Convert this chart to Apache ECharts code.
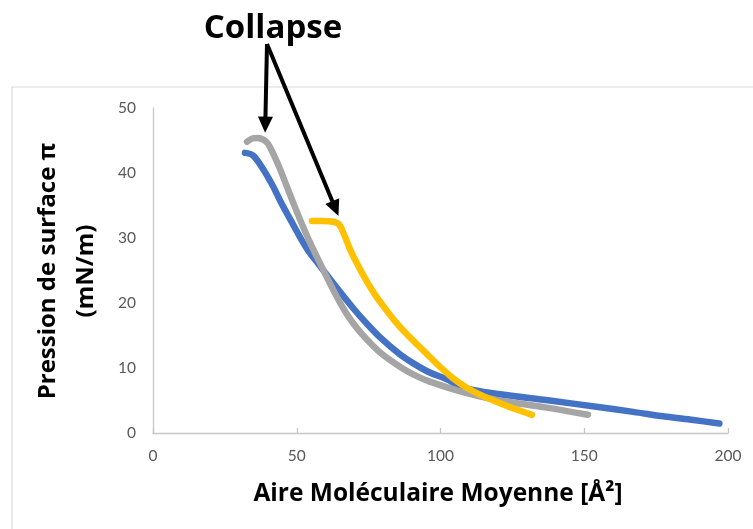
<!DOCTYPE html>
<html>
<head>
<meta charset="utf-8">
<script src="https://cdn.jsdelivr.net/npm/echarts@6/dist/echarts.min.js"></script>
<style>
  html, body { margin: 0; padding: 0; background: #ffffff; }
  #chart { width: 753px; height: 529px; }
</style>
</head>
<body>
<div id="chart"></div>
<script>
// Surface pressure isotherms: [area per molecule (Å²), surface pressure (mN/m)]
const isothermBlue = [
  [32.0, 43.1], [34.8, 42.7], [38.0, 40.8], [41.7, 38.0], [44.5, 35.5],
  [47.7, 32.9], [53.6, 28.3], [58.1, 25.7], [64.0, 22.3], [70.0, 19.0],
  [74.0, 17.0], [79.0, 14.7], [85.9, 12.1], [91.0, 10.6], [96.3, 9.3],
  [102.0, 8.3], [108.0, 7.0], [120.0, 6.0], [138.0, 5.0], [155.5, 3.95],
  [167.0, 3.25], [178.7, 2.5], [188.0, 2.0], [197.0, 1.45]
];
const isothermGray = [
  [32.7, 44.8], [34.5, 45.3], [36.5, 45.4], [38.5, 45.1], [40.0, 44.5],
  [42.0, 42.8], [44.2, 40.6], [48.7, 35.5], [53.6, 30.3], [59.1, 25.2],
  [62.0, 22.6], [65.0, 20.1], [68.0, 17.9], [71.0, 16.1], [74.4, 14.4],
  [79.0, 12.4], [85.9, 10.2], [91.0, 8.9], [96.3, 7.9], [107.8, 6.3],
  [119.5, 5.1], [137.0, 3.9], [151.3, 2.8]
];
const isothermYellow = [
  [55.3, 32.6], [59.0, 32.6], [62.6, 32.5], [64.7, 32.1], [66.5, 30.5],
  [68.5, 28.3], [71.5, 25.6], [74.4, 23.3], [77.5, 21.1], [80.0, 19.6],
  [84.0, 17.3], [88.3, 15.2], [96.3, 11.7], [100.0, 10.1], [104.4, 8.4],
  [109.0, 7.0], [113.7, 5.9], [119.0, 4.9], [125.2, 3.8], [131.8, 2.8]
];

// Axis ticks
const xTicks = { min: 0, max: 200, step: 50 };
const yTicks = { min: 0, max: 50, step: 10 };

// Texts
const xTitle = 'Aire Moléculaire Moyenne [Å²]';
const yTitle = ['Pression de surface π', '(mN/m)'];
const noteText = 'Collapse';
// Collapse points the arrows point at (area, pressure)
const collapsePoints = [[39.0, 46.2], [64.5, 33.4]];

const chart = echarts.init(document.getElementById('chart'), null, { renderer: 'canvas' });

const labelFont = 'Lato, "Open Sans", sans-serif';
const titleFont = '"Open Sans", Lato, sans-serif';

function lineSeries(data, color) {
  return {
    type: 'line',
    data: data,
    showSymbol: false,
    smooth: 0.35,
    silent: true,
    animation: false,
    lineStyle: { color: color, width: 6.5, cap: 'round', join: 'round' }
  };
}

chart.setOption({
  animation: false,
  backgroundColor: '#ffffff',
  grid: { left: 153, right: 25, top: 108, bottom: 96, containLabel: false },
  xAxis: {
    type: 'value',
    min: xTicks.min, max: xTicks.max, interval: xTicks.step,
    axisLine: { show: true, lineStyle: { color: '#c6c6c6', width: 1.3 } },
    axisTick: { show: true, inside: true, length: 5, lineStyle: { color: '#c6c6c6', width: 1.3 } },
    splitLine: { show: false },
    axisLabel: { color: '#595959', fontSize: 15.5, fontFamily: labelFont, margin: 15 }
  },
  yAxis: {
    type: 'value',
    min: yTicks.min, max: yTicks.max, interval: yTicks.step,
    axisLine: { show: true, lineStyle: { color: '#c6c6c6', width: 1.3 } },
    axisTick: { show: false },
    splitLine: { show: false },
    axisLabel: { color: '#595959', fontSize: 15.5, fontFamily: labelFont, margin: 17 }
  },
  series: [
    lineSeries(isothermBlue, '#4472C4'),
    lineSeries(isothermGray, '#A5A5A5'),
    lineSeries(isothermYellow, '#FFC000')
  ]
});

// Annotation layer: frame, axis titles and the "Collapse" arrows
function arrow(from, tip) {
  const dx = tip[0] - from[0], dy = tip[1] - from[1];
  const len = Math.sqrt(dx * dx + dy * dy);
  const ux = dx / len, uy = dy / len;
  const headLen = 16, headHalf = 7.5;
  const base = [tip[0] - ux * headLen, tip[1] - uy * headLen];
  const px = -uy, py = ux;
  return [
    {
      type: 'line', silent: true,
      shape: { x1: from[0], y1: from[1], x2: base[0] + ux * 2, y2: base[1] + uy * 2 },
      style: { stroke: '#000000', lineWidth: 4 }
    },
    {
      type: 'polygon', silent: true,
      shape: { points: [tip, [base[0] + px * headHalf, base[1] + py * headHalf], [base[0] - px * headHalf, base[1] - py * headHalf]] },
      style: { fill: '#000000' }
    }
  ];
}

const tip1 = chart.convertToPixel({ gridIndex: 0 }, collapsePoints[0]);
const tip2 = chart.convertToPixel({ gridIndex: 0 }, collapsePoints[1]);
const arrowStart = [267, 44];

chart.setOption({
  graphic: [
    {
      type: 'rect', silent: true, z: -10,
      shape: { x: 12, y: 87, width: 800, height: 500 },
      style: { fill: 'none', stroke: '#d9d9d9', lineWidth: 1.2 }
    },
    {
      type: 'text', silent: true,
      x: 438, y: 494,
      style: { text: xTitle, font: 'bold 24.5px ' + titleFont, fill: '#000000', textAlign: 'center', textVerticalAlign: 'middle' }
    },
    {
      type: 'text', silent: true,
      x: 48, y: 271, rotation: Math.PI / 2,
      style: { text: yTitle[0], font: 'bold 24px ' + titleFont, fill: '#000000', textAlign: 'center', textVerticalAlign: 'middle' }
    },
    {
      type: 'text', silent: true,
      x: 86, y: 271, rotation: Math.PI / 2,
      style: { text: yTitle[1], font: 'bold 24px ' + titleFont, fill: '#000000', textAlign: 'center', textVerticalAlign: 'middle' }
    },
    {
      type: 'text', silent: true,
      x: 273, y: 29,
      style: { text: noteText, font: 'bold 33px ' + titleFont, fill: '#000000', textAlign: 'center', textVerticalAlign: 'middle' }
    }
  ].concat(arrow(arrowStart, tip1), arrow(arrowStart, tip2))
});
</script>
</body>
</html>
